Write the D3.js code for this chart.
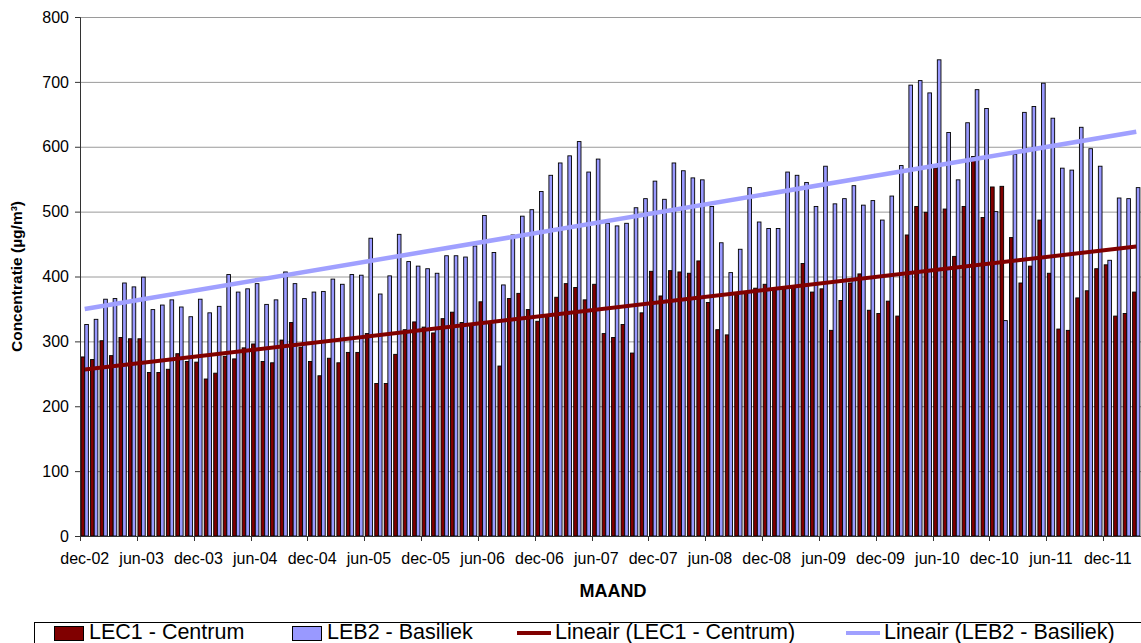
<!DOCTYPE html>
<html>
<head>
<meta charset="utf-8">
<script src="https://cdn.jsdelivr.net/npm/d3@7"></script>
<style>
  body { margin: 0; background: #fff; }
  text { font-family: 'Liberation Sans', Arial, sans-serif; }
</style>
</head>
<body>
<svg id="chart" width="1141" height="643"></svg>
<script>
//---DATA
var monthNames = ['jan', 'feb', 'mrt', 'apr', 'mei', 'jun', 'jul', 'aug', 'sep', 'okt', 'nov', 'dec'];
var startYear = 2002, startMonth = 11, nMonths = 112; // dec-02 .. mrt-12

var lec1 = [
  276, 272, 301, 278, 306, 304, 304, 252, 252, 257,
  281, 269, 268, 242, 251, 277, 273, 290, 296, 269,
  267, 302, 329, 291, 269, 247, 274, 267, 283, 283,
  312, 235, 235, 280, 318, 330, 322, 313, 335, 345,
  329, 325, 361, 328, 262, 366, 374, 349, 331, 340,
  368, 389, 383, 364, 388, 312, 306, 326, 282, 344,
  408, 370, 409, 407, 405, 424, 360, 318, 310, 372,
  375, 382, 388, 379, 381, 384, 420, 376, 381, 317,
  363, 390, 404, 348, 343, 362, 339, 464, 508, 499,
  567, 504, 431, 508, 585, 491, 538, 539, 460, 390,
  416, 487, 405, 319, 317, 367, 378, 412, 418, 339,
  343, 376
];

var leb2 = [
  326, 334, 365, 366, 390, 384, 399, 349, 356, 364,
  353, 338, 365, 344, 354, 403, 376, 381, 389, 357,
  364, 407, 389, 366, 376, 377, 396, 388, 403, 402,
  459, 373, 401, 465, 423, 416, 412, 405, 432, 432,
  430, 447, 494, 437, 387, 464, 493, 503, 531, 556,
  575, 586, 608, 561, 581, 482, 478, 482, 506, 520,
  547, 519, 575, 563, 552, 549, 508, 452, 406, 442,
  537, 484, 474, 474, 561, 556, 545, 508, 570, 512,
  520, 540, 510, 517, 487, 524, 571, 695, 702, 683,
  734, 622, 549, 637, 688, 659, 500, 332, 588, 653,
  662, 698, 644, 567, 564, 630, 597, 570, 425, 521,
  520, 537
];

var yTicks = [0, 100, 200, 300, 400, 500, 600, 700, 800];
var seriesNames = ['LEC1 - Centrum', 'LEB2 - Basiliek'];
var trendNames = ['Lineair (LEC1 - Centrum)', 'Lineair (LEB2 - Basiliek)'];

(function() {
  'use strict';

  //---CATEGORIES
  var months = [];
  for (var i = 0; i < nMonths; i++) {
    var m = (startMonth + i) % 12;
    var yr = startYear + Math.floor((startMonth + i) / 12);
    months.push(monthNames[m] + '-' + String(yr % 100).padStart(2, '0'));
  }

  //---SIZES
  var left = 80, right = 1141, top = 17, bottom = 536;
  var col_lec = '#800000', col_leb = '#9999ff', col_trend_leb = '#a0a0ff';

  var svg = d3.select('#chart');

  //---SCALES
  var x = d3.scaleBand().domain(months).range([left, right]).padding(0);
  var xs = d3.scaleBand().domain([0, 1]).range([0, x.bandwidth()]).paddingInner(0).paddingOuter(0.3);
  var y = d3.scaleLinear().domain([0, 800]).range([bottom, top]);

  //---GRIDLINES
  svg.append('g').selectAll('line')
    .data(yTicks.filter(function(d) { return d > 0; }))
    .enter().append('line')
    .attr('x1', left).attr('x2', right)
    .attr('y1', function(d) { return y(d) + 0.5; })
    .attr('y2', function(d) { return y(d) + 0.5; })
    .style('stroke', '#9a9a9a').style('stroke-width', 1);

  //---BARS
  var series = [lec1, leb2];
  var cols = [col_lec, col_leb];
  series.forEach(function(arr, s) {
    svg.append('g').selectAll('rect')
      .data(arr)
      .enter().append('rect')
      .attr('x', function(d, i) { return x(months[i]) + xs(s); })
      .attr('y', function(d) { return y(d); })
      .attr('width', xs.bandwidth())
      .attr('height', function(d) { return bottom - y(d); })
      .style('fill', cols[s])
      .style('stroke', '#000')
      .style('stroke-width', 0.9);
  });

  //---TRENDLINES (least squares over month index)
  function linfit(arr) {
    var n = arr.length, sx = 0, sy = 0, sxx = 0, sxy = 0;
    arr.forEach(function(v, i) { sx += i; sy += v; sxx += i * i; sxy += i * v; });
    var b = (n * sxy - sx * sy) / (n * sxx - sx * sx);
    var a = (sy - b * sx) / n;
    return function(i) { return a + b * i; };
  }
  series.forEach(function(arr, s) {
    var f = linfit(arr);
    var i0 = 0, i1 = arr.length - 1;
    svg.append('line')
      .attr('x1', x(months[i0]) + x.bandwidth() / 2)
      .attr('x2', x(months[i1]) + x.bandwidth() / 2)
      .attr('y1', y(f(i0)))
      .attr('y2', y(f(i1)))
      .style('stroke', s === 0 ? col_lec : col_trend_leb)
      .style('stroke-width', s === 0 ? 4 : 4.5);
  });

  //---AXES
  var yAxis = d3.axisLeft(y).tickValues(yTicks).tickSize(5).tickPadding(6);
  var gy = svg.append('g').attr('transform', 'translate(' + left + ',0)').call(yAxis);
  gy.select('.domain').style('stroke', '#333');
  gy.selectAll('.tick line').style('stroke', '#333');
  gy.selectAll('text').style('font-size', '16px').style('fill', '#000')
    .style('font-family', "'Liberation Sans', Arial, sans-serif");

  var gx = svg.append('g');
  gx.append('line')
    .attr('x1', left).attr('x2', right)
    .attr('y1', bottom + 0.5).attr('y2', bottom + 0.5)
    .style('stroke', '#333');
  var tickIdx = months.map(function(d, i) { return i; }).filter(function(i) { return i % 6 === 0; });
  gx.selectAll('.xt')
    .data(tickIdx)
    .enter().append('line')
    .attr('x1', function(i) { return Math.round(x(months[i])) + 0.5; })
    .attr('x2', function(i) { return Math.round(x(months[i])) + 0.5; })
    .attr('y1', bottom).attr('y2', bottom + 5)
    .style('stroke', '#333');
  gx.selectAll('.xl')
    .data(tickIdx)
    .enter().append('text')
    .attr('x', function(i) { return x(months[i]) + x.bandwidth() / 2; })
    .attr('y', 564)
    .attr('text-anchor', 'middle')
    .style('font-size', '16px')
    .text(function(i) { return months[i]; });

  //---TITLES
  svg.append('text')
    .attr('x', 613).attr('y', 597)
    .attr('text-anchor', 'middle')
    .style('font-size', '18px').style('font-weight', 'bold')
    .text('MAAND');

  svg.append('text')
    .attr('transform', 'translate(22,' + ((top + bottom) / 2) + ') rotate(-90)')
    .attr('text-anchor', 'middle')
    .style('font-size', '15.5px').style('font-weight', 'bold')
    .text('Concentratie (µg/m³)');

  //---LEGEND
  var lg = svg.append('g');
  lg.append('rect')
    .attr('x', 34.5).attr('y', 622.5).attr('width', 1200).attr('height', 32)
    .style('fill', '#fff').style('stroke', '#000');
  var boxItems = [{ x: 54, col: col_lec, label: seriesNames[0] }, { x: 292, col: col_leb, label: seriesNames[1] }];
  boxItems.forEach(function(d) {
    lg.append('rect')
      .attr('x', d.x + 0.5).attr('y', 626.5).attr('width', 29).attr('height', 14)
      .style('fill', d.col).style('stroke', '#000');
    lg.append('text').attr('x', d.x + 35).attr('y', 639)
      .style('font-size', '21.5px').text(d.label);
  });
  var lineItems = [{ x: 517, col: col_lec, label: trendNames[0] }, { x: 846, col: col_trend_leb, label: trendNames[1] }];
  lineItems.forEach(function(d) {
    lg.append('line')
      .attr('x1', d.x).attr('x2', d.x + 34).attr('y1', 633).attr('y2', 633)
      .style('stroke', d.col).style('stroke-width', 4);
    lg.append('text').attr('x', d.x + 38).attr('y', 639)
      .style('font-size', '21.5px').text(d.label);
  });
})();
</script>
</body>
</html>
